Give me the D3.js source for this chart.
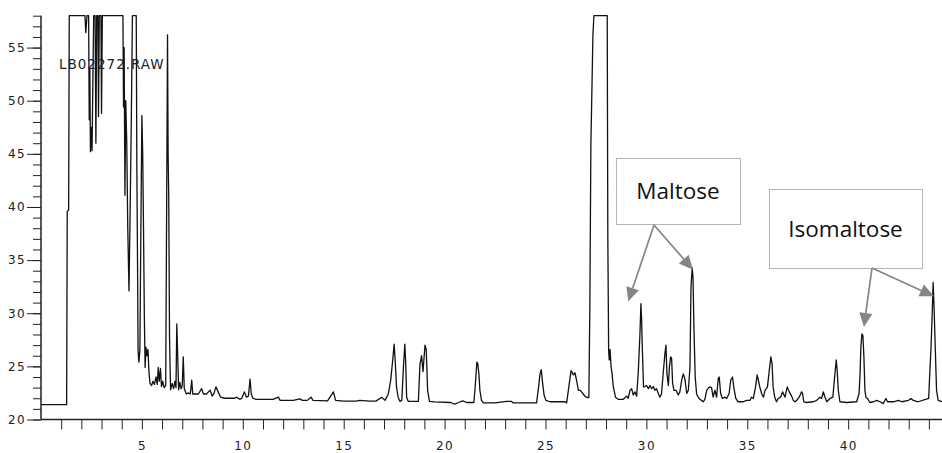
<!DOCTYPE html>
<html>
<head>
<meta charset="utf-8">
<script src="https://cdn.jsdelivr.net/npm/d3@7"></script>
<style>
  body { margin: 0; background: #fff; }
  svg { display: block; }
</style>
</head>
<body>
<div id="chart"></div>
<script>
// [retention time (min), detector response]
const trace = [
  [0, 21.4], [1.27, 21.4], [1.30, 39.6], [1.37, 39.7], [1.40, 58], [2.18, 58], [2.22, 56.4], [2.25, 57.2],
  [2.28, 58], [2.36, 58], [2.39, 48.2], [2.42, 53], [2.45, 45.2], [2.49, 47.5], [2.53, 45.3], [2.57, 51.7],
  [2.61, 58], [2.68, 58], [2.72, 46.0], [2.76, 58], [2.82, 58], [2.85, 48.5], [2.89, 58], [2.97, 58],
  [3.00, 48.8], [3.04, 58], [4.06, 58], [4.09, 49.4], [4.12, 55], [4.16, 41.1], [4.20, 50], [4.25, 46],
  [4.30, 38], [4.36, 32.1], [4.42, 40], [4.48, 49], [4.53, 58], [4.72, 58], [4.75, 43.8], [4.78, 36],
  [4.81, 26.5], [4.85, 25.4], [4.90, 26.5], [4.95, 38], [5.00, 48.6], [5.04, 45], [5.08, 38], [5.12, 30],
  [5.16, 24.9], [5.20, 26.8], [5.25, 26.0], [5.30, 26.6], [5.35, 24.5], [5.40, 23.4], [5.48, 23.2],
  [5.55, 23.6], [5.62, 23.3], [5.70, 24.0], [5.76, 23.3], [5.81, 24.9], [5.86, 23.6], [5.92, 24.8],
  [5.97, 23.1], [6.03, 23.6], [6.10, 23.0], [6.18, 23.2], [6.23, 41.2], [6.27, 56.2], [6.30, 44.9],
  [6.33, 41], [6.37, 27.7], [6.42, 22.8], [6.50, 23.4], [6.57, 22.9], [6.64, 23.6], [6.69, 23.0],
  [6.73, 29.0], [6.77, 26.3], [6.82, 22.8], [6.88, 23.5], [6.94, 22.9], [7.00, 23.2], [7.05, 25.9],
  [7.10, 22.9], [7.20, 22.4], [7.30, 22.5], [7.40, 22.4], [7.47, 23.7], [7.52, 22.4], [7.80, 22.4],
  [7.96, 22.9], [8.05, 22.4], [8.20, 22.4], [8.30, 22.6], [8.38, 22.75], [8.48, 22.2], [8.58, 22.5],
  [8.67, 23.07], [8.78, 22.6], [8.90, 22.1], [9.10, 22.0], [9.60, 22.0], [9.70, 22.1], [9.85, 21.9],
  [9.95, 22.0], [10.08, 22.6], [10.18, 22.1], [10.28, 22.2], [10.36, 23.8], [10.42, 22.4], [10.50, 22.0],
  [10.65, 21.9], [11.5, 21.9], [11.76, 22.1], [11.85, 21.8], [12.5, 21.8], [12.83, 21.95], [12.95, 21.8],
  [13.2, 21.8], [13.38, 22.1], [13.48, 21.8], [14.2, 21.76], [14.49, 22.6], [14.60, 21.8], [15.0, 21.73],
  [15.6, 21.73], [15.8, 21.8], [16.3, 21.73], [16.6, 21.73], [16.88, 22.1], [17.05, 21.8], [17.21, 22.4],
  [17.33, 23.7], [17.43, 25.6], [17.50, 27.1], [17.55, 25.6], [17.62, 23.0], [17.70, 22.1], [17.79, 21.7],
  [17.88, 21.8], [17.96, 24.9], [18.03, 27.1], [18.07, 25.5], [18.12, 22.1], [18.20, 21.7], [18.70, 21.7],
  [18.78, 25.2], [18.86, 26.0], [18.93, 24.5], [19.03, 27.0], [19.09, 26.6], [19.16, 22.75], [19.25, 21.7],
  [19.5, 21.65], [20.3, 21.6], [20.5, 21.45], [20.7, 21.6], [20.9, 21.76], [21.1, 21.6], [21.45, 21.6],
  [21.51, 22.9], [21.60, 25.4], [21.65, 25.2], [21.70, 24.3], [21.75, 22.75], [21.83, 21.8], [21.92, 21.56],
  [22.5, 21.56], [23.08, 21.7], [23.32, 21.7], [23.40, 21.56], [24.56, 21.56], [24.66, 23.1], [24.73, 24.3],
  [24.79, 24.7], [24.86, 23.4], [24.93, 22.3], [25.02, 21.8], [25.23, 21.67], [25.97, 21.67], [26.05, 21.56],
  [26.18, 23.4], [26.27, 24.6], [26.33, 24.4], [26.38, 24.2], [26.46, 24.4], [26.55, 23.6], [26.63, 22.75],
  [26.71, 22.75], [26.79, 22.6], [26.87, 22.4], [26.95, 22.2], [27.05, 22.07], [27.15, 22.07], [27.20, 30.9],
  [27.25, 45.8], [27.35, 56.1], [27.40, 58], [28.06, 58], [28.09, 37.1], [28.13, 26.5], [28.16, 25.6],
  [28.20, 26.6], [28.25, 25.0], [28.30, 24.3], [28.36, 23.1], [28.47, 22.1], [28.61, 21.9], [28.86, 21.9],
  [29.02, 22.2], [29.10, 22.0], [29.19, 22.75], [29.27, 22.9], [29.35, 22.3], [29.43, 22.6], [29.52, 22.2],
  [29.60, 24.5], [29.68, 28.0], [29.73, 30.9], [29.76, 29.6], [29.80, 26.65], [29.86, 23.07], [29.93, 23.1],
  [30.01, 23.2], [30.10, 22.9], [30.18, 23.2], [30.26, 22.9], [30.34, 23.1], [30.42, 22.75], [30.50, 22.9],
  [30.67, 22.1], [30.75, 22.4], [30.84, 24.5], [30.92, 26.2], [30.97, 27.0], [31.02, 24.3], [31.09, 23.2],
  [31.14, 24.9], [31.20, 25.9], [31.25, 25.75], [31.30, 23.4], [31.37, 22.75], [31.47, 22.75], [31.58, 22.3],
  [31.66, 22.6], [31.75, 23.7], [31.83, 24.3], [31.91, 23.8], [32.00, 22.45], [32.08, 22.75], [32.16, 24.9],
  [32.21, 32.4], [32.27, 34.3], [32.31, 33.4], [32.36, 28.4], [32.42, 24.0], [32.49, 22.4], [32.57, 22.1],
  [32.65, 21.9], [32.73, 21.8], [32.82, 21.67], [32.90, 21.9], [32.99, 22.75], [33.12, 23.07], [33.23, 23.0],
  [33.31, 22.1], [33.40, 22.75], [33.48, 22.1], [33.56, 23.84], [33.61, 24.0], [33.68, 22.45], [33.77, 21.98],
  [33.90, 22.1], [33.98, 21.98], [34.10, 22.45], [34.18, 23.7], [34.27, 24.0], [34.33, 23.07], [34.43, 21.98],
  [34.55, 21.67], [34.80, 21.67], [34.96, 21.8], [35.13, 21.8], [35.21, 22.1], [35.30, 21.98], [35.41, 23.07],
  [35.49, 24.2], [35.56, 23.6], [35.62, 23.07], [35.71, 22.45], [35.80, 22.1], [35.88, 22.75], [36.00, 23.07],
  [36.09, 24.6], [36.17, 25.9], [36.23, 25.25], [36.28, 23.07], [36.36, 22.1], [36.45, 21.67], [36.53, 21.98],
  [36.65, 22.1], [36.75, 22.6], [36.87, 22.1], [36.98, 23.07], [37.08, 22.6], [37.20, 22.2], [37.28, 21.8],
  [37.36, 21.67], [37.45, 21.8], [37.57, 22.1], [37.69, 22.6], [37.74, 22.45], [37.80, 21.67], [37.94, 21.6],
  [38.27, 21.67], [38.44, 21.8], [38.60, 22.1], [38.68, 21.98], [38.77, 22.6], [38.85, 22.1], [38.94, 21.67],
  [39.10, 21.98], [39.24, 22.1], [39.30, 23.4], [39.36, 24.6], [39.41, 25.6], [39.46, 24.5], [39.51, 22.75],
  [39.59, 21.67], [39.92, 21.6], [40.42, 21.67], [40.54, 22.45], [40.59, 24.3], [40.63, 26.8], [40.68, 28.05],
  [40.73, 27.9], [40.78, 25.9], [40.83, 22.75], [40.88, 22.1], [40.95, 21.98], [41.08, 21.6], [41.25, 21.67],
  [41.42, 21.8], [41.58, 21.67], [41.74, 21.5], [41.87, 21.98], [41.95, 21.67], [42.24, 21.67], [42.49, 21.8],
  [42.66, 21.67], [42.99, 21.8], [43.10, 21.98], [43.23, 21.8], [43.47, 21.67], [43.99, 21.98], [44.05, 24.6],
  [44.10, 26.5], [44.17, 30.2], [44.21, 32.9], [44.26, 30.4], [44.32, 26.5], [44.38, 22.75], [44.46, 21.8],
  [44.65, 21.67]
];

const yLabelTicks = [20, 25, 30, 35, 40, 45, 50, 55];
const xLabelTicks = [5, 10, 15, 20, 25, 30, 35, 40];
const sampleName = "LB02272.RAW";

// peak callouts: label text and the [time, response] each arrow points at
const calloutLabels = ["Maltose", "Isomaltose"];
const calloutTargets = [
  [[29.10, 31.1], [32.31, 34.1]],
  [[40.78, 28.7], [44.25, 31.6]]
];

const width = 942, height = 453;
const plot = { left: 41, right: 942, top: 15.7, bottom: 419.5 };

const svg = d3.select("#chart").append("svg")
  .attr("width", width)
  .attr("height", height);

const x = d3.scaleLinear().domain([0, 44.65]).range([plot.left, plot.right]);
const y = d3.scaleLinear().domain([20, 58]).range([plot.bottom, plot.top]);

const axisFont = "'DejaVu Sans', Verdana, sans-serif";

// Y axis: short tick every unit, longer labelled tick every 5
svg.append("g")
  .attr("transform", `translate(${plot.left},0)`)
  .call(d3.axisLeft(y).tickValues(d3.range(20, 59)).tickSize(8).tickSizeOuter(0).tickFormat(""))
  .call(g => g.select(".domain").remove());

svg.append("g")
  .attr("transform", `translate(${plot.left},0)`)
  .call(d3.axisLeft(y).tickValues(yLabelTicks).tickSize(14).tickSizeOuter(0).tickPadding(1))
  .call(g => g.select(".domain").remove())
  .call(g => g.selectAll("text").attr("font-family", axisFont).attr("font-size", 12)
    .attr("letter-spacing", 1.4).attr("fill", "#222"));

// X axis: ticks every minute, labels every 5
svg.append("g")
  .attr("transform", `translate(0,${plot.bottom})`)
  .call(d3.axisBottom(x).tickValues(d3.range(1, 45)).tickSize(10).tickSizeOuter(0).tickPadding(12)
    .tickFormat(d => xLabelTicks.includes(d) ? d : ""))
  .call(g => g.select(".domain").remove())
  .call(g => g.selectAll("text").attr("font-family", axisFont).attr("font-size", 12)
    .attr("letter-spacing", 1.4).attr("fill", "#222"));

svg.selectAll(".tick line").attr("stroke", "#222");

// axis lines
svg.append("line")
  .attr("x1", plot.left).attr("x2", plot.left)
  .attr("y1", plot.top).attr("y2", plot.bottom)
  .attr("stroke", "#222").attr("stroke-width", 1.5);
svg.append("line")
  .attr("x1", plot.left).attr("x2", plot.right)
  .attr("y1", plot.bottom).attr("y2", plot.bottom)
  .attr("stroke", "#222").attr("stroke-width", 1.5);

// the chromatogram itself
const line = d3.line()
  .x(d => x(d[0]))
  .y(d => y(d[1]));

svg.append("path")
  .datum(trace)
  .attr("fill", "none")
  .attr("stroke", "#111")
  .attr("stroke-width", 1.3)
  .attr("stroke-linejoin", "round")
  .attr("d", line);

svg.append("text")
  .attr("x", 59)
  .attr("y", 69)
  .attr("font-family", axisFont)
  .attr("font-size", 13.5)
  .attr("letter-spacing", 1)
  .attr("fill", "#222")
  .text(sampleName);

// callout boxes (pixel layout) with arrows to the peaks
const boxes = [
  { x: 616, y: 158, w: 124, h: 66, ox: 654, oy: 225 },
  { x: 769, y: 189, w: 153, h: 79, ox: 872, oy: 268 }
];
const arrowColor = "#858585";

function drawArrow(x0, y0, x1, y1) {
  const len = Math.hypot(x1 - x0, y1 - y0);
  const ux = (x1 - x0) / len, uy = (y1 - y0) / len;
  const head = 14, half = 6.5;
  const bx = x1 - ux * head, by = y1 - uy * head;
  svg.append("line")
    .attr("x1", x0).attr("y1", y0)
    .attr("x2", bx).attr("y2", by)
    .attr("stroke", arrowColor).attr("stroke-width", 1.7);
  svg.append("path")
    .attr("d", `M${x1},${y1}L${bx - uy * half},${by + ux * half}L${bx + uy * half},${by - ux * half}Z`)
    .attr("fill", arrowColor);
}

calloutLabels.forEach((label, i) => {
  const b = boxes[i];
  svg.append("rect")
    .attr("x", b.x + 0.5).attr("y", b.y + 0.5)
    .attr("width", b.w).attr("height", b.h)
    .attr("fill", "#fff")
    .attr("stroke", "#b5b5b5");
  svg.append("text")
    .attr("x", b.x + b.w / 2)
    .attr("y", b.y + b.h / 2)
    .attr("dy", "0.36em")
    .attr("text-anchor", "middle")
    .attr("font-family", "'Open Sans', 'Noto Sans', sans-serif")
    .attr("font-size", 22.5)
    .attr("fill", "#111")
    .text(label);
  calloutTargets[i].forEach(t => drawArrow(b.ox, b.oy, x(t[0]), y(t[1])));
});
</script>
</body>
</html>
